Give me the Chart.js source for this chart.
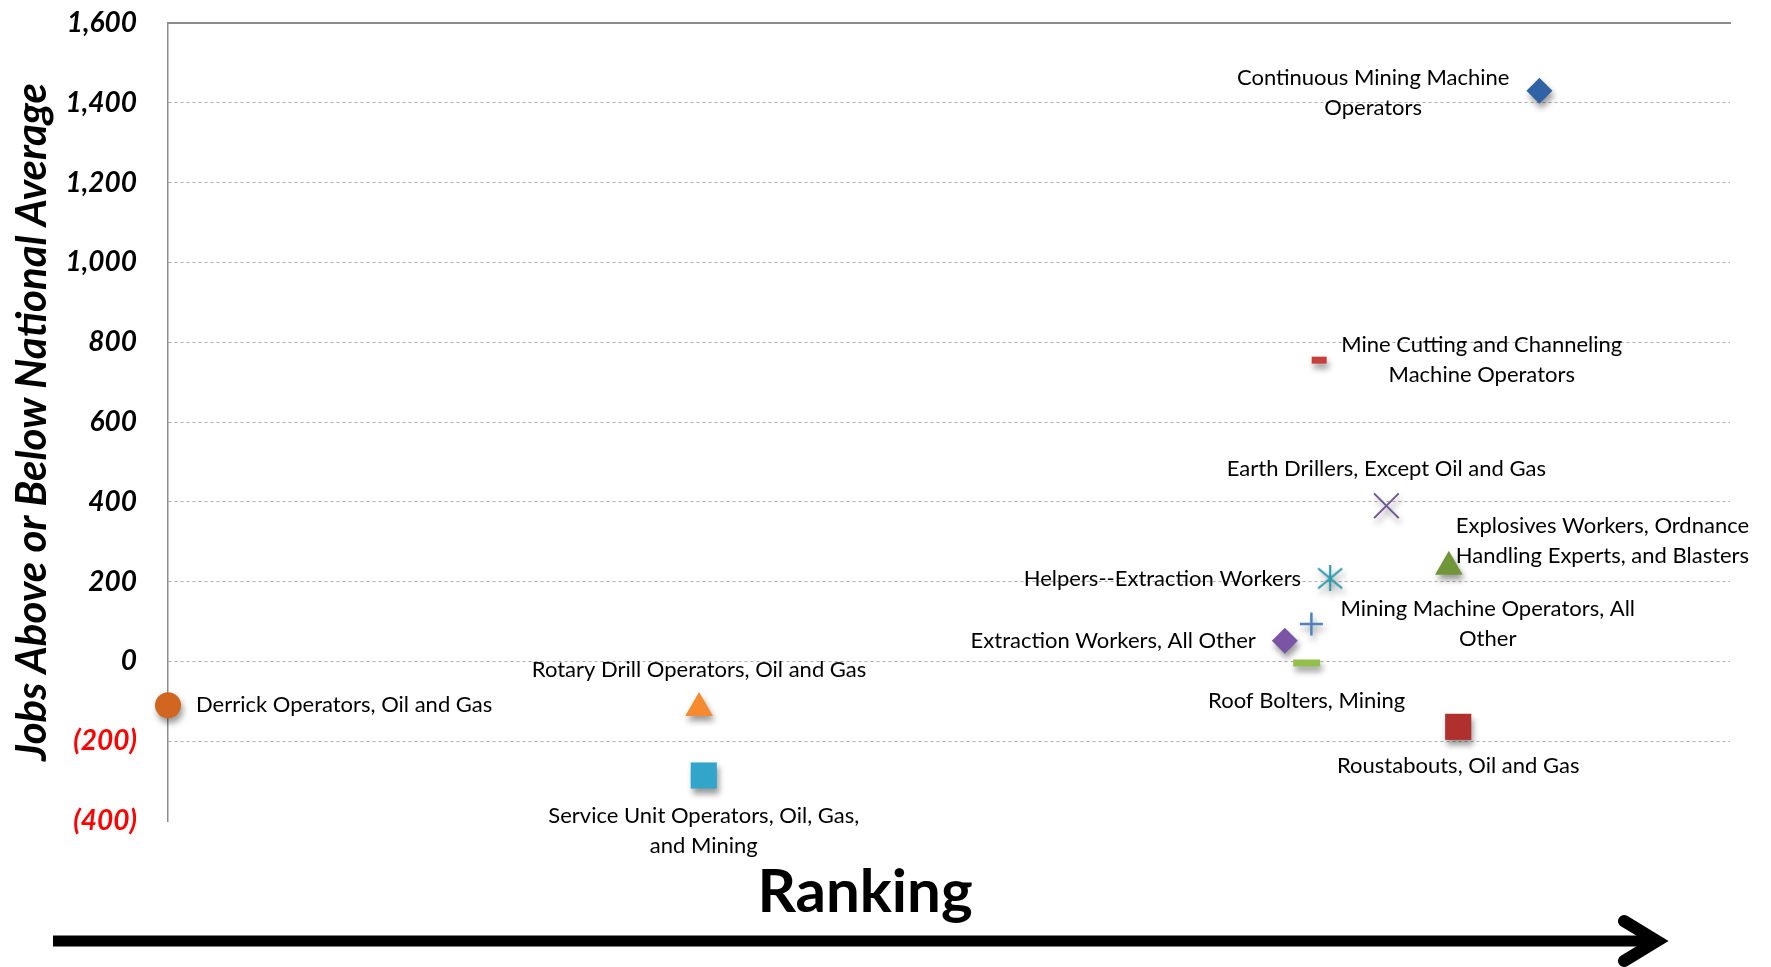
<!DOCTYPE html>
<html>
<head>
<meta charset="utf-8">
<script src="https://cdn.jsdelivr.net/npm/chart.js@4.4.0/dist/chart.umd.min.js"></script>
<style>
    html, body { margin: 0; padding: 0; background: #fff; }
    #wrap { width: 1771px; height: 967px; }
</style>
</head>
<body>
<div id="wrap"><canvas id="rankChart"></canvas></div>
<script>
// one point per occupation
const occupations = [
    'Derrick Operators, Oil and Gas',
    'Rotary Drill Operators, Oil and Gas',
    'Service Unit Operators, Oil, Gas,\nand Mining',
    'Continuous Mining Machine\nOperators',
    'Mine Cutting and Channeling\nMachine Operators',
    'Earth Drillers, Except Oil and Gas',
    'Explosives Workers, Ordnance\nHandling Experts, and Blasters',
    'Helpers--Extraction Workers',
    'Mining Machine Operators, All\nOther',
    'Extraction Workers, All Other',
    'Roof Bolters, Mining',
    'Roustabouts, Oil and Gas'
];
const rankings = [0, 34.0, 34.3, 87.8, 73.7, 78.0, 82.0, 74.4, 73.2, 71.5, 72.9, 82.6];
const jobsVsAverage = [-110, -117, -286, 1430, 755, 390, 237, 208, 94, 52, -4, -164];
const yTickValues = [-400, -200, 0, 200, 400, 600, 800, 1000, 1200, 1400, 1600];

// marker look
const markerStyles = ['circle', 'triangle', 'rect', 'rectRot', 'line', 'crossRot',
    'triangle', 'asterisk', 'cross', 'rectRot', 'line', 'rect'];
const markerColors = ['#D0661F', '#F68A2E', '#31A6CA', '#3063A5', '#C8403B', '#6F5593',
    '#71963A', '#2D98AE', '#4F81BD', '#7A55A5', '#92C04A', '#B0302D'];
const markerRadii = [13, 16, 18.5, 13, 7.5, 17.5, 16, 13, 11.5, 13, 13.5, 18.5];
const markerLines = [0, 0, 0, 0, 7, 2, 0, 2, 2.5, 0, 7, 0];

// label side, gap from the point, vertical nudge
const labelSide = ['right', 'above', 'below', 'left', 'right', 'above',
    'right', 'left', 'right', 'left', 'below', 'below'];
const labelGap = [28, 38, 40, 30, 22, 37, 7, 29, 29, 29, 38, 39];
const labelNudge = [0, 0, 0, 2, 0, 0, -26, 0, 0, 0, 0, 0];

// Excel style asterisk: vertical bar plus an X
const asterisk = document.createElement('canvas');
asterisk.width = 26;
asterisk.height = 26;
(function () {
    const a = asterisk.getContext('2d');
    a.strokeStyle = markerColors[7];
    a.lineWidth = 2.2;
    a.beginPath();
    a.moveTo(13, 0); a.lineTo(13, 26);
    a.moveTo(1, 3); a.lineTo(25, 23);
    a.moveTo(25, 3); a.lineTo(1, 23);
    a.stroke();
})();

const markerShadow = {
    id: 'markerShadow',
    beforeDatasetsDraw(chart) {
        const c = chart.ctx;
        c.save();
        c.shadowColor = 'rgba(0,0,0,0.4)';
        c.shadowBlur = 6;
        c.shadowOffsetX = 2;
        c.shadowOffsetY = 5;
    },
    afterDatasetsDraw(chart) {
        chart.ctx.restore();
    }
};

const pointLabels = {
    id: 'pointLabels',
    afterDraw(chart) {
        const c = chart.ctx;
        const lineH = 30;
        c.save();
        c.font = '22px Lato';
        c.fillStyle = '#000';
        c.textAlign = 'center';
        c.textBaseline = 'middle';
        occupations.forEach((name, i) => {
            const pt = chart.getDatasetMeta(i).data[0];
            const lines = name.split('\n');
            const w = Math.max(...lines.map(l => c.measureText(l).width));
            const h = lines.length * lineH;
            let cx = pt.x, cy = pt.y + labelNudge[i];
            if (labelSide[i] === 'right') cx = pt.x + labelGap[i] + w / 2;
            if (labelSide[i] === 'left') cx = pt.x - labelGap[i] - w / 2;
            if (labelSide[i] === 'above') cy = pt.y - labelGap[i] - (h - lineH) / 2;
            if (labelSide[i] === 'below') cy = pt.y + labelGap[i] + (h - lineH) / 2;
            lines.forEach((l, k) => {
                c.fillText(l, cx, cy - (h - lineH) / 2 + k * lineH);
            });
        });
        c.restore();
    }
};

const rankingArrow = {
    id: 'rankingArrow',
    afterDraw(chart) {
        const c = chart.ctx;
        const y = chart.height - 26;
        c.save();
        c.strokeStyle = '#000';
        c.lineWidth = 11;
        c.beginPath();
        c.moveTo(53, y);
        c.lineTo(1652, y);
        c.stroke();
        c.lineWidth = 12;
        c.lineCap = 'round';
        c.beginPath();
        c.moveTo(1624, y - 20);
        c.lineTo(1657, y);
        c.lineTo(1624, y + 20);
        c.stroke();
        c.restore();
    }
};

const datasets = occupations.map((name, i) => ({
    label: name.replace('\n', ' '),
    data: [{ x: rankings[i], y: jobsVsAverage[i] }],
    pointStyle: markerStyles[i] === 'asterisk' ? asterisk : markerStyles[i],
    pointRadius: markerRadii[i],
    pointBackgroundColor: markerColors[i],
    pointBorderColor: markerColors[i],
    pointBorderWidth: markerLines[i],
    showLine: false,
    clip: false
}));

const ctx = document.getElementById('rankChart');
new Chart(ctx, {
    type: 'scatter',
    data: { datasets: datasets },
    plugins: [markerShadow, pointLabels, rankingArrow],
    options: {
        responsive: true,
        maintainAspectRatio: false,
        animation: false,
        events: [],
        layout: {
            padding: { left: 0, right: 41, top: 23, bottom: 38 }
        },
        plugins: {
            legend: { display: false },
            tooltip: { enabled: false },
            title: {
                display: true,
                position: 'bottom',
                text: 'Ranking',
                color: '#000',
                font: { family: 'Lato', size: 60, weight: 'bold' },
                padding: { top: 36, bottom: 0 }
            }
        },
        scales: {
            x: {
                type: 'linear',
                position: 'top',
                min: 0,
                max: 100,
                ticks: { display: false },
                grid: { display: false, drawTicks: false },
                border: { color: '#8C8C8C', width: 2 }
            },
            y: {
                min: -400,
                max: 1600,
                afterBuildTicks: s => {
                    s.ticks = yTickValues.map(v => ({ value: v }));
                },
                afterFit: s => {
                    s.width = 168;
                    // label overhang only, not the horizontal tick padding
                    s.paddingTop = 17;
                    s.paddingBottom = 17;
                },
                grid: {
                    drawTicks: false,
                    lineWidth: 1,
                    color: c => (c.tick.value === -400 || c.tick.value === 1600) ? 'rgba(0,0,0,0)' : '#ABABAB'
                },
                border: { color: '#8C8C8C', width: 1.5, dash: [3, 3] },
                ticks: {
                    padding: 31,
                    color: c => c.tick.value < 0 ? '#FF0000' : '#000000',
                    font: { family: 'Lato', size: 28, weight: 'bold', style: 'italic' },
                    callback: v => v < 0
                        ? '(' + Math.abs(v).toLocaleString('en-US') + ')'
                        : v.toLocaleString('en-US')
                },
                title: {
                    display: true,
                    text: 'Jobs Above or Below National Average',
                    color: '#000',
                    font: { family: 'Lato', size: 42, weight: 'bold', style: 'italic' },
                    padding: { top: 7, bottom: 0 }
                }
            }
        }
    }
});
</script>
</body>
</html>
